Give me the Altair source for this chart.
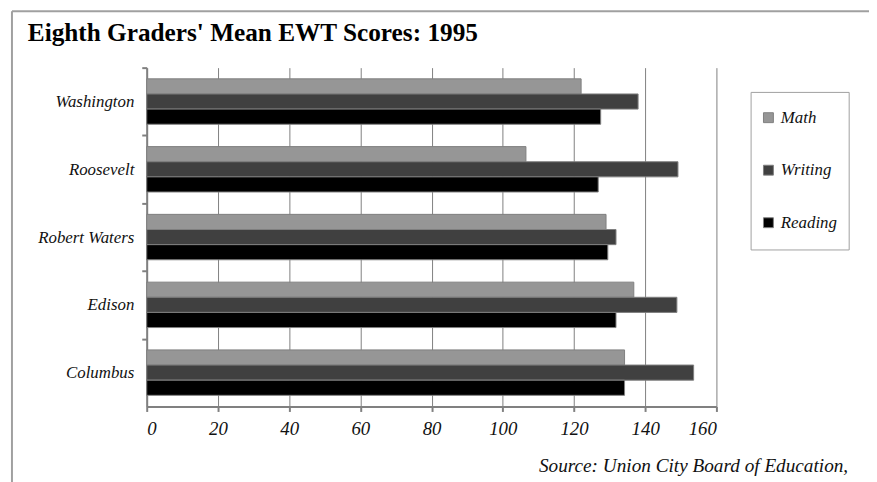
import altair as alt
import pandas as pd

schools = ["Washington", "Roosevelt", "Robert Waters", "Edison", "Columbus"]
subjects = ["Math", "Writing", "Reading"]
math = [122, 106.5, 129, 136.8, 134.2]
writing = [138, 149.2, 131.8, 148.9, 153.6]
reading = [127.5, 126.8, 129.5, 131.8, 134.2]
colors = ["#969696", "#404040", "#000000"]
x_ticks = [0, 20, 40, 60, 80, 100, 120, 140, 160]
title_text = "Eighth Graders' Mean EWT Scores:  1995"
source_text = "Source:  Union City Board of Education,"

rows = []
for i, s in enumerate(schools):
    for subj, vals in zip(subjects, [math, writing, reading]):
        rows.append({"School": s, "Subject": subj, "Score": vals[i]})
df = pd.DataFrame(rows)

SERIF = "Liberation Serif"
H = 342
P_IN = 0.33
STEP = H / len(schools)
HALF_GAP = STEP * P_IN / 2

bars = alt.Chart(df).mark_bar(stroke="#808080", strokeWidth=1).encode(
    y=alt.Y("School:N", sort=schools, title=None,
            scale=alt.Scale(paddingInner=P_IN, paddingOuter=P_IN / 2),
            axis=alt.Axis(bandPosition=0, tickOffset=-HALF_GAP,
                          labelOffset=HALF_GAP,
                          domainColor="#808080", domainWidth=2,
                          tickColor="#808080", tickWidth=2, tickSize=5,
                          labelFont=SERIF, labelFontStyle="italic", labelFontSize=17,
                          labelColor="#111", labelPadding=8, grid=False)),
    yOffset=alt.YOffset("Subject:N", sort=subjects),
    x=alt.X("Score:Q", title=None,
            scale=alt.Scale(domain=[0, 160], nice=False),
            axis=alt.Axis(values=x_ticks, grid=True, gridColor="#808080", gridWidth=1,
                          domainColor="#808080", domainWidth=2, tickColor="#808080",
                          tickWidth=2, tickSize=5, labelFont=SERIF, labelFontStyle="italic",
                          labelFontSize=19, labelColor="#111", labelPadding=8)),
    color=alt.Color("Subject:N", sort=subjects,
                    scale=alt.Scale(domain=subjects, range=colors),
                    legend=alt.Legend(title=None, orient="none", legendX=619, legendY=42,
                                      symbolType="square", symbolSize=100,
                                      symbolStrokeColor="#808080", symbolStrokeWidth=1,
                                      labelFont=SERIF, labelFontStyle="italic",
                                      labelFontSize=17, labelColor="#111",
                                      rowPadding=35, padding=0)),
)

frame_df = pd.DataFrame({"k": [0]})
left_border = alt.Chart(frame_df).mark_rule(color="#a0a0a0", strokeWidth=2).encode(
    x=alt.value(-136), y=alt.value(-57), y2=alt.value(420))
top_border = alt.Chart(frame_df).mark_rule(color="#a0a0a0", strokeWidth=2).encode(
    x=alt.value(-136), x2=alt.value(735), y=alt.value(-57))
legend_box = alt.Chart(frame_df).mark_rect(fill="white", stroke="#a0a0a0", strokeWidth=1).encode(
    x=alt.value(610), x2=alt.value(709), y=alt.value(25), y2=alt.value(184))
source = alt.Chart(frame_df).mark_text(
    text=source_text, font=SERIF, fontStyle="italic", fontSize=19.4,
    align="right", baseline="alphabetic", color="#111").encode(
    x=alt.value(708), y=alt.value(408))

chart = alt.layer(bars, left_border, top_border, legend_box, source).properties(
    width=575, height=H,
    title=alt.TitleParams(title_text, anchor="start", font=SERIF, fontSize=25.5,
                          fontWeight="bold", color="#000", baseline="alphabetic",
                          dx=17, dy=57, offset=0),
    autosize=alt.AutoSizeParams(type="none"),
    padding={"left": 140, "top": 58, "right": 154, "bottom": 74},
).configure_view(stroke=None)

chart.save("out.html", embed_options={"renderer": "svg", "actions": False})
